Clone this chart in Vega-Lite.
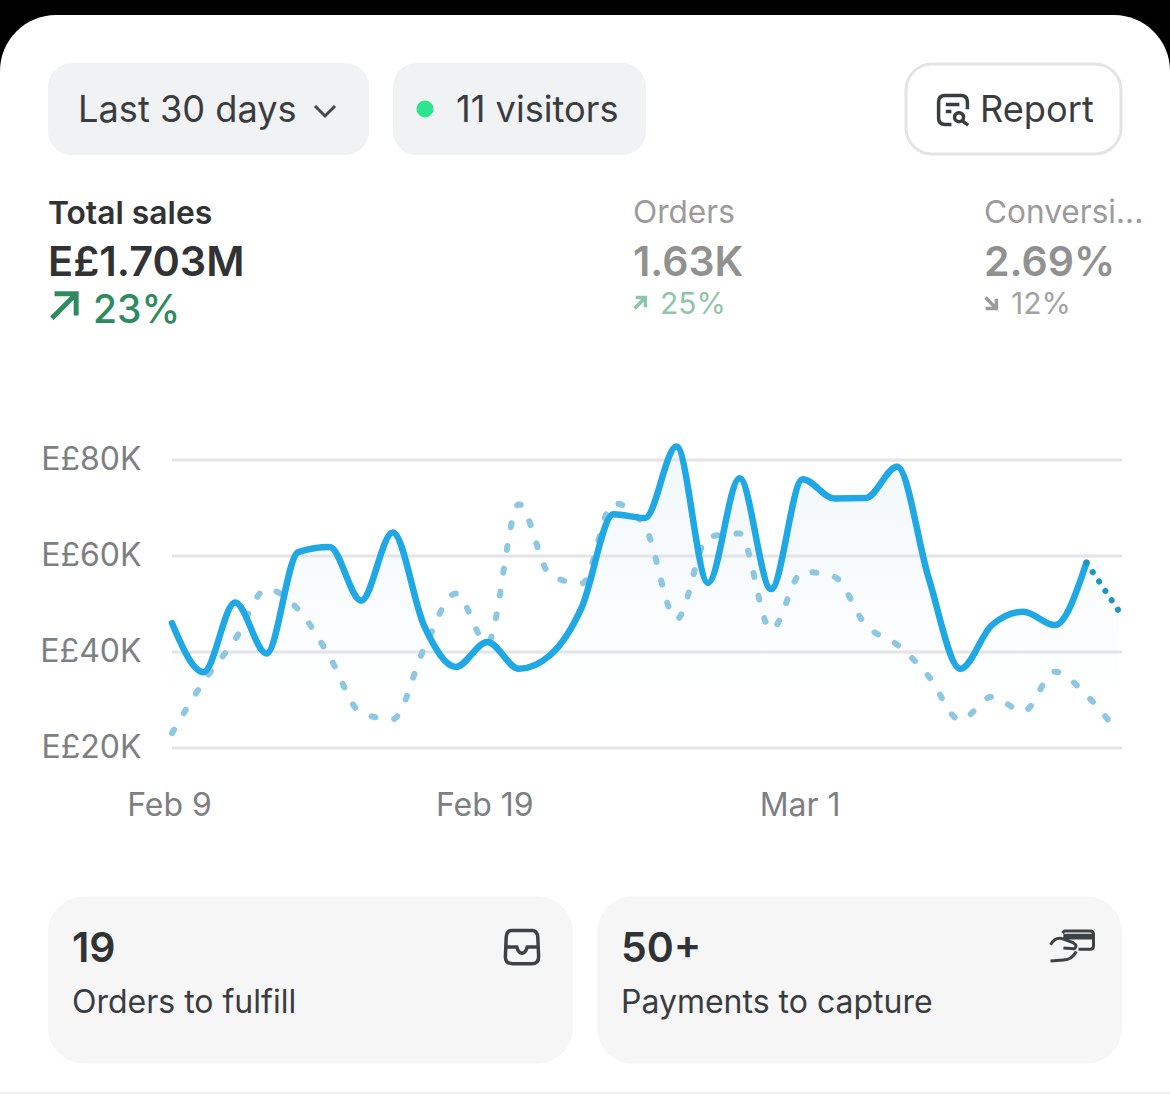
{
  "$schema": "https://vega.github.io/schema/vega-lite/v6.json",
  "width": 1170,
  "height": 1094,
  "padding": 0,
  "autosize": {"type": "none"},
  "background": "#000000",
  "config": {
    "view": {"stroke": null},
    "text": {"font": "Inter", "align": "left", "baseline": "middle"},
    "axis": {"labelFont": "Inter"}
  },
  "datasets": {
    "sales": [
      {"date": "2025-02-09T00:00:00", "current": 46000, "previous": 23100},
      {"date": "2025-02-10T00:00:00", "current": 35800, "previous": 33800},
      {"date": "2025-02-11T00:00:00", "current": 50300, "previous": 42600},
      {"date": "2025-02-12T00:00:00", "current": 39700, "previous": 53100},
      {"date": "2025-02-13T00:00:00", "current": 60800, "previous": 48900},
      {"date": "2025-02-14T00:00:00", "current": 61900, "previous": 39000},
      {"date": "2025-02-15T00:00:00", "current": 50700, "previous": 27300},
      {"date": "2025-02-16T00:00:00", "current": 64900, "previous": 26000},
      {"date": "2025-02-17T00:00:00", "current": 45400, "previous": 40800},
      {"date": "2025-02-18T00:00:00", "current": 36900, "previous": 52200},
      {"date": "2025-02-19T00:00:00", "current": 42100, "previous": 41800},
      {"date": "2025-02-20T00:00:00", "current": 36500, "previous": 70800},
      {"date": "2025-02-21T00:00:00", "current": 39400, "previous": 56000},
      {"date": "2025-02-22T00:00:00", "current": 49400, "previous": 54300},
      {"date": "2025-02-23T00:00:00", "current": 68700, "previous": 71000},
      {"date": "2025-02-24T00:00:00", "current": 67900, "previous": 66100},
      {"date": "2025-02-25T00:00:00", "current": 82800, "previous": 46800},
      {"date": "2025-02-26T00:00:00", "current": 54400, "previous": 63900},
      {"date": "2025-02-27T00:00:00", "current": 76200, "previous": 64700},
      {"date": "2025-02-28T00:00:00", "current": 53100, "previous": 44600},
      {"date": "2025-03-01T00:00:00", "current": 76000, "previous": 56700},
      {"date": "2025-03-02T00:00:00", "current": 72000, "previous": 55700},
      {"date": "2025-03-03T00:00:00", "current": 72100, "previous": 45600},
      {"date": "2025-03-04T00:00:00", "current": 78600, "previous": 41500},
      {"date": "2025-03-05T00:00:00", "current": 55300, "previous": 34900},
      {"date": "2025-03-06T00:00:00", "current": 36500, "previous": 25800},
      {"date": "2025-03-07T00:00:00", "current": 45600, "previous": 30700},
      {"date": "2025-03-08T00:00:00", "current": 48400, "previous": 27600},
      {"date": "2025-03-09T00:00:00", "current": 45600, "previous": 35900},
      {"date": "2025-03-10T00:00:00", "current": 58600, "previous": 31000},
      {"date": "2025-03-11T00:00:00", "current": 48800, "previous": 23200}
    ],
    "gridlines": [
      {"sales": 20000, "from": "2025-02-09T00:00:00", "to": "2025-03-11T03:00:00"},
      {"sales": 40000, "from": "2025-02-09T00:00:00", "to": "2025-03-11T03:00:00"},
      {"sales": 60000, "from": "2025-02-09T00:00:00", "to": "2025-03-11T03:00:00"},
      {"sales": 80000, "from": "2025-02-09T00:00:00", "to": "2025-03-11T03:00:00"}
    ],
    "panels": [
      {"panel": "screen", "rank": 1},
      {"panel": "period", "rank": 2},
      {"panel": "visitors", "rank": 3},
      {"panel": "report", "rank": 4},
      {"panel": "fulfill", "rank": 5},
      {"panel": "capture", "rank": 6},
      {"panel": "divider", "rank": 7}
    ],
    "icons": [
      {"icon": "live", "rank": 1},
      {"icon": "chevron", "rank": 2},
      {"icon": "report", "rank": 3},
      {"icon": "inbox", "rank": 4},
      {"icon": "payment", "rank": 5},
      {"icon": "sales up", "rank": 6},
      {"icon": "orders up", "rank": 7},
      {"icon": "conversion down", "rank": 8}
    ],
    "labels": [
      {"label": "Last 30 days", "group": "control", "rank": 1},
      {"label": "11 visitors", "group": "control", "rank": 2},
      {"label": "Report", "group": "control", "rank": 3},
      {"label": "Total sales", "group": "active name", "rank": 4},
      {"label": "E£1.703M", "group": "active value", "rank": 5},
      {"label": "23%", "group": "active change", "rank": 6},
      {"label": "Orders", "group": "name", "rank": 7},
      {"label": "1.63K", "group": "value", "rank": 8},
      {"label": "25%", "group": "rise", "rank": 9},
      {"label": "Conversi...", "group": "name", "rank": 10},
      {"label": "2.69%", "group": "value", "rank": 11},
      {"label": "12%", "group": "fall", "rank": 12},
      {"label": "19", "group": "count", "rank": 13},
      {"label": "Orders to fulfill", "group": "task", "rank": 14},
      {"label": "50+", "group": "count", "rank": 15},
      {"label": "Payments to capture", "group": "task", "rank": 16}
    ]
  },
  "resolve": {"scale": {"x": "independent", "y": "independent"}},
  "layer": [
    {
      "data": {"name": "panels"},
      "encoding": {
        "x": {"field": "rank", "type": "quantitative", "axis": null, "scale": {"domain": [1, 2, 3, 4, 5, 6, 7], "range": [585, 208.5, 519.5, 1013.5, 310.5, 859.5, 585], "nice": false, "zero": false}},
        "y": {"field": "rank", "type": "quantitative", "axis": null, "scale": {"domain": [1, 2, 3, 4, 5, 6, 7], "range": [1015, 109, 109, 109, 980, 980, 1093], "nice": false, "zero": false}}
      },
      "layer": [
        {"transform": [{"filter": "datum.panel == 'screen'"}], "mark": {"type": "rect", "width": 1170, "height": 2000, "cornerRadius": 56, "fill": "#ffffff"}},
        {"transform": [{"filter": "datum.panel == 'period'"}], "mark": {"type": "rect", "width": 321, "height": 92, "cornerRadius": 24, "fill": "#f1f2f4"}},
        {"transform": [{"filter": "datum.panel == 'visitors'"}], "mark": {"type": "rect", "width": 253, "height": 92, "cornerRadius": 24, "fill": "#f1f2f4"}},
        {"transform": [{"filter": "datum.panel == 'report'"}], "mark": {"type": "rect", "width": 215, "height": 90, "cornerRadius": 26, "fill": "#ffffff", "stroke": "#e3e4e6", "strokeWidth": 3}},
        {"transform": [{"filter": "datum.panel == 'fulfill' || datum.panel == 'capture'"}], "mark": {"type": "rect", "width": 525, "height": 167, "cornerRadius": 36, "fill": "#f6f6f7"}},
        {"transform": [{"filter": "datum.panel == 'divider'"}], "mark": {"type": "rect", "width": 1170, "height": 2, "fill": "#eeeeef"}}
      ]
    },
    {
      "data": {"name": "icons"},
      "encoding": {
        "x": {"field": "rank", "type": "quantitative", "axis": null, "scale": {"domain": [1, 2, 3, 4, 5, 6, 7, 8], "range": [425, 325, 953, 522, 1072, 64, 640, 991], "nice": false, "zero": false}},
        "y": {"field": "rank", "type": "quantitative", "axis": null, "scale": {"domain": [1, 2, 3, 4, 5, 6, 7, 8], "range": [109, 111, 110, 947, 947, 306, 303, 303], "nice": false, "zero": false}}
      },
      "layer": [
        {"transform": [{"filter": "datum.icon == 'live'"}], "mark": {"type": "point", "shape": "circle", "filled": true, "size": 289, "color": "#2ee58f", "opacity": 1}},
        {"transform": [{"filter": "datum.icon == 'chevron'"}], "mark": {"type": "point", "shape": "M-1,-0.5 L0,0.5 L1,-0.5", "size": 400, "stroke": "#45484a", "strokeWidth": 3, "opacity": 1}},
        {"transform": [{"filter": "datum.icon == 'report'"}], "mark": {"type": "point", "shape": "M-0.1,0.9 L-0.5,0.9 Q-0.9,0.9 -0.9,0.5 L-0.9,-0.5 Q-0.9,-0.9 -0.5,-0.9 L0.5,-0.9 Q0.9,-0.9 0.9,-0.5 L0.9,-0.05 M-0.45,-0.35 L0.4,-0.35 M-0.45,0.1 L-0.1,0.1 M0.1,0.45 A0.28,0.28 0 1,0 0.66,0.45 A0.28,0.28 0 1,0 0.1,0.45 M0.6,0.7 L0.95,0.95", "size": 1024, "stroke": "#3a3d3f", "strokeWidth": 3.5, "opacity": 1}},
        {"transform": [{"filter": "datum.icon == 'inbox'"}], "mark": {"type": "point", "shape": "M-0.6,-0.95 L0.6,-0.95 Q0.85,-0.95 0.9,-0.6 L0.95,0.55 Q0.95,0.95 0.55,0.95 L-0.55,0.95 Q-0.95,0.95 -0.95,0.55 L-0.9,-0.6 Q-0.85,-0.95 -0.6,-0.95 Z M-0.95,0 L-0.3,0 Q-0.2,0.35 0,0.35 Q0.2,0.35 0.3,0 L0.95,0", "size": 1225, "stroke": "#3f4244", "strokeWidth": 3.5, "opacity": 1}},
        {"transform": [{"filter": "datum.icon == 'payment'"}], "mark": {"type": "point", "shape": "M-0.45,-0.65 L-0.35,-0.75 L0.85,-0.75 Q1,-0.75 1,-0.6 L1,-0.05 Q1,0.1 0.85,0.1 L0.3,0.1 M-0.4,-0.42 L1,-0.42 M-0.4,-0.55 L1,-0.55 M-1,-0.1 Q-0.8,-0.45 -0.5,-0.4 L0.05,-0.2 Q0.3,-0.05 0.1,0.08 L-0.4,0.05 M0.2,0.2 Q0,0.6 -0.4,0.6 L-1,0.65", "size": 1849, "stroke": "#3f4244", "strokeWidth": 3, "opacity": 1}},
        {"transform": [{"filter": "datum.icon == 'sales up'"}], "mark": {"type": "point", "shape": "M-0.9,0.9 L0.9,-0.9 M-0.7,-0.9 L0.9,-0.9 L0.9,0.7", "size": 729, "stroke": "#2e8b5f", "strokeWidth": 5, "opacity": 1}},
        {"transform": [{"filter": "datum.icon == 'orders up'"}], "mark": {"type": "point", "shape": "M-0.9,0.9 L0.9,-0.9 M-0.7,-0.9 L0.9,-0.9 L0.9,0.7", "size": 144, "stroke": "#8fc5aa", "strokeWidth": 3.5, "opacity": 1}},
        {"transform": [{"filter": "datum.icon == 'conversion down'"}], "mark": {"type": "point", "shape": "M-0.9,-0.9 L0.9,0.9 M-0.9,0.9 L0.9,0.9 L0.9,-0.7", "size": 144, "stroke": "#9c9c9c", "strokeWidth": 3.5, "opacity": 1}}
      ]
    },
    {
      "data": {"name": "labels"},
      "encoding": {
        "x": {"field": "rank", "type": "quantitative", "axis": null, "scale": {"domain": [1, 2, 3, 4, 5, 6, 7, 8, 9, 10, 11, 12, 13, 14, 15, 16], "range": [78, 456, 980, 48, 48, 93, 633, 633, 660, 984, 984, 1011, 72, 72, 621, 621], "nice": false, "zero": false}},
        "y": {"field": "rank", "type": "quantitative", "axis": null, "scale": {"domain": [1, 2, 3, 4, 5, 6, 7, 8, 9, 10, 11, 12, 13, 14, 15, 16], "range": [110.5, 110.5, 110.5, 214, 264, 311, 214, 264, 305, 214, 264, 305, 950, 1003, 950, 1003], "nice": false, "zero": false}},
        "text": {"field": "label", "type": "nominal"}
      },
      "layer": [
        {"transform": [{"filter": "datum.group == 'control'"}], "mark": {"type": "text", "fontSize": 36.2, "color": "#3a3d3f"}},
        {"transform": [{"filter": "datum.group == 'active name'"}], "mark": {"type": "text", "fontSize": 31.8, "fontWeight": 600, "color": "#303234"}},
        {"transform": [{"filter": "datum.group == 'active value'"}], "mark": {"type": "text", "fontSize": 41.5, "fontWeight": 600, "color": "#303234"}},
        {"transform": [{"filter": "datum.group == 'active change'"}], "mark": {"type": "text", "fontSize": 39, "fontWeight": 500, "color": "#2e8b5f"}},
        {"transform": [{"filter": "datum.group == 'name'"}], "mark": {"type": "text", "fontSize": 31.6, "color": "#9b9b9b"}},
        {"transform": [{"filter": "datum.group == 'value'"}], "mark": {"type": "text", "fontSize": 41, "fontWeight": 600, "color": "#919191"}},
        {"transform": [{"filter": "datum.group == 'rise'"}], "mark": {"type": "text", "fontSize": 30, "color": "#8fc5aa"}},
        {"transform": [{"filter": "datum.group == 'fall'"}], "mark": {"type": "text", "fontSize": 30, "color": "#a3a3a3"}},
        {"transform": [{"filter": "datum.group == 'count'"}], "mark": {"type": "text", "fontSize": 41, "fontWeight": 600, "color": "#303234"}},
        {"transform": [{"filter": "datum.group == 'task'"}], "mark": {"type": "text", "fontSize": 32, "color": "#3a3d3f"}}
      ]
    },
    {
      "layer": [
        {
          "data": {"name": "sales"},
          "mark": {
            "type": "area",
            "interpolate": "monotone",
            "color": {"gradient": "linear", "x1": 0, "y1": 0, "x2": 0, "y2": 1, "stops": [{"offset": 0, "color": "#f1f7fa"}, {"offset": 0.85, "color": "#ffffff"}]}
          },
          "encoding": {
            "x": {
              "field": "date",
              "type": "temporal",
              "scale": {"domain": ["2025-02-09T00:00:00", "2025-03-11T00:00:00"], "range": [172, 1118]},
              "axis": {
                "title": null,
                "domain": false,
                "ticks": false,
                "grid": false,
                "zindex": 1,
                "values": [
                  {"year": 2025, "month": "feb", "date": 9},
                  {"year": 2025, "month": "feb", "date": 19},
                  {"year": 2025, "month": "mar", "date": 1}
                ],
                "format": "%b %-d",
                "offset": -304,
                "labelPadding": 0,
                "labelFontSize": 32,
                "labelColor": "#7d8082",
                "labelFlush": false,
                "labelOffset": -3,
                "labelOverlap": false
              }
            },
            "y": {
              "field": "current",
              "type": "quantitative",
              "scale": {"domain": [20000, 80000], "range": [748, 460], "nice": false, "zero": false},
              "axis": {
                "title": null,
                "domain": false,
                "ticks": false,
                "grid": false,
                "zindex": 1,
                "values": [20000, 40000, 60000, 80000],
                "labelExpr": "'E£' + datum.value / 1000 + 'K'",
                "offset": -141,
                "labelPadding": 0,
                "labelFontSize": 32,
                "labelColor": "#7d8082",
                "labelOffset": -1
              }
            },
            "y2": {"datum": 20000}
          }
        },
        {
          "data": {"name": "gridlines"},
          "mark": {"type": "rule", "color": "#e3e4e6", "strokeWidth": 3},
          "encoding": {
            "x": {"field": "from", "type": "temporal"},
            "x2": {"field": "to"},
            "y": {"field": "sales", "type": "quantitative"}
          }
        },
        {
          "data": {"name": "sales"},
          "mark": {"type": "line", "interpolate": "monotone", "color": "#8ec7e1", "strokeWidth": 6, "strokeDash": [4, 19], "strokeCap": "round"},
          "encoding": {
            "x": {"field": "date", "type": "temporal"},
            "y": {"field": "previous", "type": "quantitative"}
          }
        },
        {
          "data": {"name": "sales"},
          "transform": [{"filter": {"field": "date", "lte": {"year": 2025, "month": "mar", "date": 10}}}],
          "mark": {"type": "line", "interpolate": "monotone", "color": "#1fa8e4", "strokeWidth": 6.5, "strokeCap": "round"},
          "encoding": {
            "x": {"field": "date", "type": "temporal"},
            "y": {"field": "current", "type": "quantitative"}
          }
        },
        {
          "data": {"name": "sales"},
          "transform": [{"filter": {"field": "date", "gte": {"year": 2025, "month": "mar", "date": 10}}}],
          "mark": {"type": "line", "color": "#1f93c4", "strokeWidth": 6, "strokeDash": [0.1, 11.2], "strokeCap": "round"},
          "encoding": {
            "x": {"field": "date", "type": "temporal"},
            "y": {"field": "current", "type": "quantitative"}
          }
        }
      ]
    }
  ]
}
